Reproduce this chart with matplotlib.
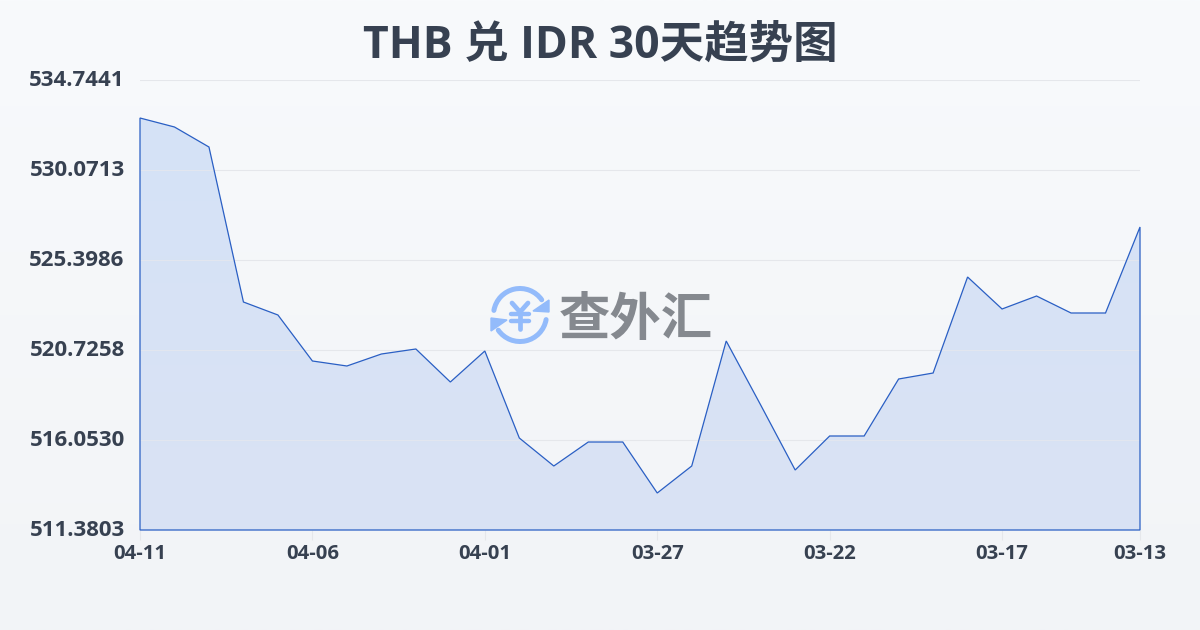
import numpy as np
import matplotlib
matplotlib.use("Agg")
import matplotlib.pyplot as plt
from matplotlib.patches import Arc, Polygon
from matplotlib.transforms import ScaledTranslation

plt.rcParams['font.family'] = ['Open Sans', 'Noto Sans CJK SC', 'DejaVu Sans']

title = "THB 兑 IDR 30天趋势图"
values = [532.771, 532.304, 531.265, 523.218, 522.543, 520.155, 519.895, 520.518,
          520.778, 519.064, 520.674, 516.157, 514.703, 515.949, 515.949, 513.301,
          514.703, 521.193, 517.870, 514.495, 516.261, 516.261, 519.220, 519.531,
          524.516, 522.855, 523.529, 522.647, 522.647, 527.112]
x_ticks = [0, 5, 10, 15, 20, 25, 29]
x_labels = ["04-11", "04-06", "04-01", "03-27", "03-22", "03-17", "03-13"]
y_ticks = [511.3803, 516.0530, 520.7258, 525.3986, 530.0713, 534.7441]
y_labels = ["511.3803", "516.0530", "520.7258", "525.3986", "530.0713", "534.7441"]

W, H = 1200, 630
fig = plt.figure(figsize=(W / 100, H / 100), dpi=100)

bg = fig.add_axes([0, 0, 1, 1], zorder=0)
bg.axis("off")
top = np.array([0xf8, 0xfa, 0xfc]) / 255
bot = np.array([0xf2, 0xf4, 0xf7]) / 255
t = np.linspace(0, 1, 256)[:, None, None]
bg.imshow(top * (1 - t) + bot * t, aspect="auto", extent=[0, 1, 0, 1])

ax = fig.add_axes([140 / W, 1 - 530 / H, 1000 / W, 450 / H], zorder=1)
ax.patch.set_alpha(0)
xs = np.arange(len(values))
for s in ax.spines.values():
    s.set_visible(False)
ax.set_yticks(y_ticks)
ax.set_yticklabels(y_labels, fontsize=16, fontweight="bold", color="#374151")
ax.set_xticks(x_ticks)
ax.set_xticklabels(x_labels, fontsize=14.6, fontweight="bold", color="#374151")
ax.tick_params(axis="y", length=0, pad=11)
ax.tick_params(axis="x", length=7, width=0.8, color="#e5e7eb", pad=3)
up = ScaledTranslation(0, 1.5 / 72, fig.dpi_scale_trans)
for lab in ax.get_yticklabels():
    lab.set_transform(lab.get_transform() + up)
ax.grid(axis="y", color="#e5e7eb", lw=0.8, zorder=1)
ax.set_axisbelow(True)

fill_grad = np.zeros((256, 1, 4))
ft = np.linspace(0, 1, 256)
c0 = np.array([0xd5, 0xe3, 0xf7]) / 255
c1 = np.array([0xda, 0xe2, 0xf4]) / 255
fill_grad[..., :3] = (c0 * (1 - ft[:, None]) + c1 * ft[:, None])[:, None, :]
fill_grad[..., 3] = 1.0
im = ax.imshow(fill_grad, aspect="auto", extent=[0, 29, y_ticks[0], max(values)],
               zorder=2, origin="upper")
ax.set_xlim(0, 29)
ax.set_ylim(y_ticks[0], y_ticks[-1])
verts = [(0, y_ticks[0])] + list(zip(xs, values)) + [(29, y_ticks[0])]
poly = Polygon(verts, closed=True, facecolor="none", edgecolor="none", transform=ax.transData)
ax.add_patch(poly)
im.set_clip_path(poly)
for yv in y_ticks[1:-1]:
    l = ax.axhline(yv, color="#e2e6ef", lw=0.8, zorder=3)
    l.set_clip_path(poly)
outline = Polygon(verts, closed=True, facecolor="none", edgecolor="#2a5fc4", lw=0.9,
                  zorder=4, clip_on=False, joinstyle="miter")
ax.add_patch(outline)

fig.text(600 / W, 1 - 46 / H, title, ha="center", va="center", fontsize=32,
         fontweight="bold", color="#374151")

ov = fig.add_axes([0, 0, 1, 1], zorder=5)
ov.axis("off")
ov.set_xlim(0, W)
ov.set_ylim(H, 0)
ov.patch.set_alpha(0)
blue = "#93bbfb"
cx, cy, r = 520, 315, 26.5
ov.add_patch(Arc((cx, cy), 2 * r, 2 * r, theta1=190, theta2=325, color=blue, lw=3.6, capstyle="round"))
ov.add_patch(Arc((cx, cy), 2 * r, 2 * r, theta1=10, theta2=145, color=blue, lw=3.6, capstyle="round"))
ov.add_patch(Polygon([(549, 300), (549, 312), (533, 311)], closed=True, fc=blue, ec=blue, lw=1))
ov.add_patch(Polygon([(491, 318), (491, 331), (507, 320)], closed=True, fc=blue, ec=blue, lw=1))
ov.plot([512, 520, 528], [303, 312, 303], color=blue, lw=3.4, solid_capstyle="round", solid_joinstyle="round")
ov.plot([520, 520], [312, 329], color=blue, lw=3.4, solid_capstyle="round")
ov.plot([511, 529], [314, 314], color=blue, lw=3.2, solid_capstyle="round")
ov.plot([511, 529], [321, 321], color=blue, lw=3.2, solid_capstyle="round")
ov.text(636, 319, "查外汇", ha="center", va="center", fontsize=37, fontweight="bold", color="#85898f",
        family=['Noto Sans CJK SC'])

fig.savefig("out.png", dpi=100)
